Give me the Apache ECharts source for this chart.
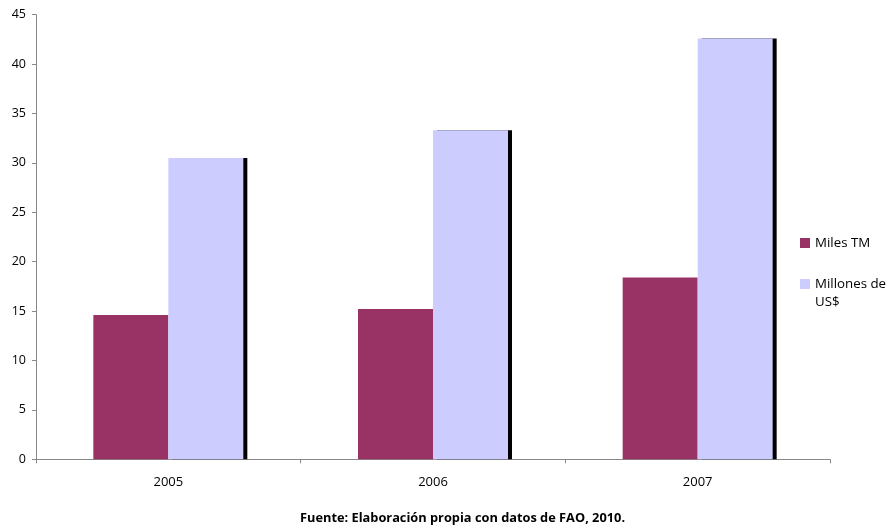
<!DOCTYPE html>
<html>
<head>
<meta charset="utf-8">
<script src="https://cdn.jsdelivr.net/npm/echarts@6/dist/echarts.min.js"></script>
<style>html,body{margin:0;padding:0;background:#fff}#c{width:888px;height:531px}</style>
</head>
<body>
<div id="c"></div>
<script>
const categories = ['2005', '2006', '2007'];
const milesTM = [14.6, 15.2, 18.4];
const millonesUSD = [30.5, 33.3, 42.6];
const seriesNames = ['Miles TM', 'Millones de US$'];
const footnote = 'Fuente: Elaboración propia con datos de FAO, 2010.';

const chart = echarts.init(document.getElementById('c'));
const font = 'Open Sans';
const legendText = { fontSize: 13.3, color: '#000', fontFamily: font, lineHeight: 18 };
chart.setOption({
  animation: false,
  backgroundColor: '#fff',
  textStyle: { fontFamily: font },
  grid: { left: 36, right: 58, top: 14.7, bottom: 71.7, containLabel: false },
  title: {
    text: footnote, left: 300, top: 512, padding: 0,
    textStyle: { fontSize: 12.8, fontWeight: 'bold', color: '#000', fontFamily: font }
  },
  legend: [
    {
      orient: 'vertical', left: 800, top: 234, padding: 0,
      itemWidth: 10, itemHeight: 10, itemGap: 5,
      icon: 'rect',
      data: [seriesNames[0]],
      textStyle: legendText
    },
    {
      orient: 'vertical', left: 800, top: 257, padding: 0,
      itemWidth: 10, itemHeight: 10, itemGap: 5,
      icon: 'rect',
      data: [seriesNames[1]],
      formatter: n => '\n' + n.replace(' US$', '\nUS$'),
      textStyle: legendText
    }
  ],
  xAxis: {
    type: 'category', data: categories,
    axisLine: { lineStyle: { color: '#888', width: 1 } },
    axisTick: { show: true, alignWithLabel: false, length: 4, lineStyle: { color: '#888' } },
    axisLabel: { color: '#000', fontSize: 13, margin: 16 }
  },
  yAxis: {
    type: 'value', min: 0, max: 45, interval: 5,
    axisLine: { show: true, lineStyle: { color: '#888', width: 1 } },
    axisTick: { show: true, length: 4, lineStyle: { color: '#888' } },
    splitLine: { show: false },
    axisLabel: { color: '#000', fontSize: 12.5, margin: 10 }
  },
  series: [
    {
      name: seriesNames[0], type: 'bar', data: milesTM,
      barWidth: 75, barGap: '0%',
      itemStyle: { color: '#993366' }
    },
    {
      name: seriesNames[1], type: 'bar', data: millonesUSD,
      barWidth: 75,
      itemStyle: { color: '#CCCCFF', shadowColor: '#000', shadowOffsetX: 4, shadowOffsetY: 0, shadowBlur: 0 }
    }
  ]
});
</script>
</body>
</html>
